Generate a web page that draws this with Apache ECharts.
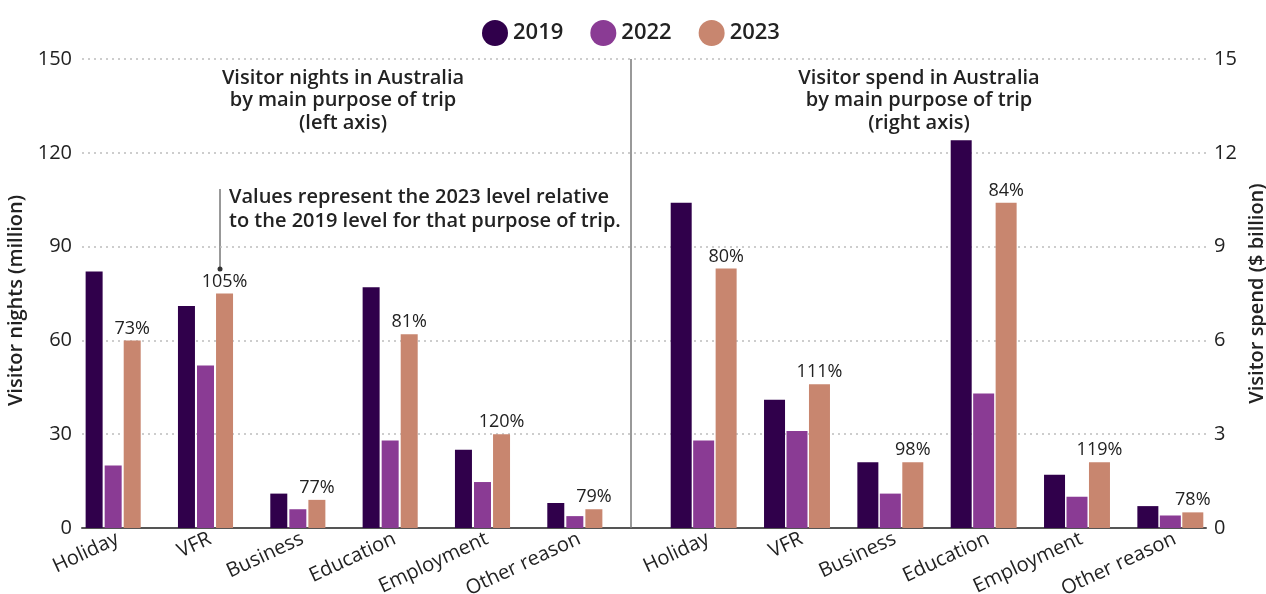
<!DOCTYPE html>
<html>
<head>
<meta charset="utf-8">
<script src="https://cdn.jsdelivr.net/npm/echarts@6/dist/echarts.min.js"></script>
<style>
  html, body { margin: 0; padding: 0; background: #fff; }
  #chart { width: 1266px; height: 594px; }
</style>
</head>
<body>
<div id="chart"></div>
<script>
// 数据
var categories = ['Holiday', 'VFR', 'Business', 'Education', 'Employment', 'Other reason'];
var years = ['2019', '2022', '2023'];
var nights2019 = [82, 71, 11, 77, 25, 8];
var nights2022 = [20, 52, 6, 28, 14.7, 3.8];
var nights2023 = [60, 75, 9, 62, 30, 6];
var nightsPct = ['73%', '105%', '77%', '81%', '120%', '79%'];
var spend2019 = [10.4, 4.1, 2.1, 12.4, 1.7, 0.7];
var spend2022 = [2.8, 3.1, 1.1, 4.3, 1.0, 0.4];
var spend2023 = [8.3, 4.6, 2.1, 10.4, 2.1, 0.5];
var spendPct = ['80%', '111%', '98%', '84%', '119%', '78%'];
var leftTicks = [0, 150, 30];   // min, max, interval
var rightTicks = [0, 15, 3];

var colors = ['#30004b', '#8a3b94', '#c8866f'];
var fontFam = '"Open Sans", sans-serif';
var textCol = '#222';

var chart = echarts.init(document.getElementById('chart'));

// 柱子配置
function bars(name, data, xi, yi, width, gap, color, pct) {
  var s = {
    name: name,
    type: 'bar',
    xAxisIndex: xi,
    yAxisIndex: yi,
    data: data,
    barWidth: width,
    barGap: gap,
    itemStyle: { color: color },
    emphasis: { disabled: true }
  };
  if (pct) {
    s.label = {
      show: true,
      position: 'top',
      distance: 3,
      fontFamily: fontFam,
      fontSize: 18,
      fontWeight: 500,
      color: textCol,
      formatter: function (p) { return pct[p.dataIndex]; }
    };
  }
  return s;
}

function catAxis(gi) {
  return {
    type: 'category',
    gridIndex: gi,
    data: categories,
    axisLine: { show: false },
    axisTick: { show: false },
    axisLabel: {
      rotate: 25,
      margin: 12,
      padding: [0, -5, 0, 0],
      fontFamily: fontFam,
      fontSize: 20,
      fontWeight: 400,
      color: textCol,
      interval: 0
    }
  };
}

function hiddenY(gi, t) {
  return {
    type: 'value', gridIndex: gi, min: t[0], max: t[1], interval: t[2],
    axisLabel: { show: false }, axisLine: { show: false },
    axisTick: { show: false }, splitLine: { show: false }
  };
}

function titleText(cx, txt) {
  return {
    type: 'text', x: cx, y: 67,
    style: {
      text: txt, align: 'center', textAlign: 'center', lineHeight: 22.5,
      font: '600 20px ' + fontFam, fill: textCol
    }
  };
}

var option = {
  animation: false,
  legend: {
    top: 15,
    left: 477,
    icon: 'circle',
    itemWidth: 26,
    itemHeight: 26,
    itemGap: 27,
    data: years,
    textStyle: { fontFamily: fontFam, fontSize: 22, fontWeight: 600, color: textCol }
  },
  color: colors,
  grid: [
    { left: 82, right: 60, top: 59, bottom: 66, outerBoundsMode: 'none' },      // 背景网格线
    { left: 67, right: 1266 - 621, top: 59, bottom: 66, outerBoundsMode: 'none' },
    { left: 657, right: 1266 - 1217, top: 59, bottom: 66, outerBoundsMode: 'none' }
  ],
  xAxis: [
    {
      type: 'value', gridIndex: 0, min: 0, max: 1,
      axisLabel: { show: false }, axisTick: { show: false }, splitLine: { show: false },
      axisLine: { show: true, onZero: false, lineStyle: { color: '#555', width: 2 } }
    },
    catAxis(1),
    catAxis(2)
  ],
  yAxis: [
    {
      type: 'value', gridIndex: 0, position: 'left',
      min: leftTicks[0], max: leftTicks[1], interval: leftTicks[2],
      name: 'Visitor nights (million)',
      nameLocation: 'middle',
      nameGap: 49,
      nameTextStyle: { fontFamily: fontFam, fontSize: 20, fontWeight: 600, color: textCol, padding: [0, 14, 0, 0] },
      axisLine: { show: false }, axisTick: { show: false },
      axisLabel: { margin: 10, fontFamily: fontFam, fontSize: 20, fontWeight: 400, color: textCol },
      splitLine: { show: true, lineStyle: { color: '#bdbdbd', type: [2, 4], width: 1.5 } }
    },
    {
      type: 'value', gridIndex: 0, position: 'right',
      min: rightTicks[0], max: rightTicks[1], interval: rightTicks[2],
      name: 'Visitor spend ($ billion)',
      nameLocation: 'middle',
      nameGap: 28,
      nameRotate: 90,
      nameTextStyle: { fontFamily: fontFam, fontSize: 20, fontWeight: 600, color: textCol },
      axisLine: { show: false }, axisTick: { show: false },
      axisLabel: { margin: 8, fontFamily: fontFam, fontSize: 20, fontWeight: 400, color: textCol },
      splitLine: { show: false }
    },
    hiddenY(1, leftTicks),
    hiddenY(2, rightTicks)
  ],
  series: [
    bars('2019', nights2019, 1, 2, 17, '12%', colors[0]),
    bars('2022', nights2022, 1, 2, 17, '12%', colors[1]),
    bars('2023', nights2023, 1, 2, 17, '12%', colors[2], nightsPct),
    bars('2019', spend2019, 2, 3, 21, '7%', colors[0]),
    bars('2022', spend2022, 2, 3, 21, '7%', colors[1]),
    bars('2023', spend2023, 2, 3, 21, '7%', colors[2], spendPct)
  ],
  graphic: [
    // 中间分隔线
    { type: 'line', shape: { x1: 631, y1: 59, x2: 631, y2: 528 }, style: { stroke: '#777', lineWidth: 1.5 }, z: 5 },
    titleText(343, 'Visitor nights in Australia\nby main purpose of trip\n(left axis)'),
    titleText(919, 'Visitor spend in Australia\nby main purpose of trip\n(right axis)'),
    // 注释
    { type: 'line', shape: { x1: 220, y1: 189, x2: 220, y2: 269 }, style: { stroke: '#333', lineWidth: 1 } },
    { type: 'circle', shape: { cx: 220, cy: 269, r: 2.5 }, style: { fill: '#333' } },
    {
      type: 'text', x: 229, y: 185,
      style: {
        text: 'Values represent the 2023 level relative\nto the 2019 level for that purpose of trip.',
        lineHeight: 24,
        font: '600 20px ' + fontFam, fill: textCol
      }
    }
  ]
};
chart.setOption(option);
</script>
</body>
</html>
